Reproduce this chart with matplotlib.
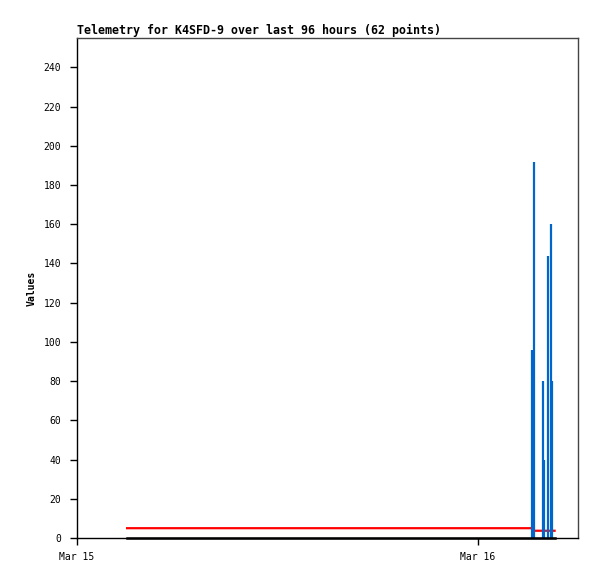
import matplotlib
matplotlib.use("Agg")
import matplotlib.pyplot as plt
from datetime import datetime

# Data
zero_times = [datetime(2024, 3, 15, 3, 0), datetime(2024, 3, 16, 4, 36)]
zero_vals = [0, 0]

red_times = [datetime(2024, 3, 15, 3, 0), datetime(2024, 3, 16, 3, 16),
             datetime(2024, 3, 16, 3, 21), datetime(2024, 3, 16, 4, 36)]
red_vals = [5, 5, 3.7, 3.7]

bar_times = [datetime(2024, 3, 16, 3, 16), datetime(2024, 3, 16, 3, 21),
             datetime(2024, 3, 16, 3, 53), datetime(2024, 3, 16, 3, 57),
             datetime(2024, 3, 16, 4, 11), datetime(2024, 3, 16, 4, 22),
             datetime(2024, 3, 16, 4, 26)]
bar_vals = [96, 192, 80, 40, 144, 160, 80]

yticks = list(range(0, 241, 20))
xtick_times = [datetime(2024, 3, 15), datetime(2024, 3, 16)]
xtick_labels = ["Mar 15", "Mar 16"]

mono = "DejaVu Sans Mono"

fig = plt.figure(figsize=(5.97, 5.79), dpi=100)
ax = fig.add_axes([77 / 597, 1 - 538 / 579, 501 / 597, 500 / 579])

ax.plot(red_times, red_vals, color="#ff0000", lw=1.6, zorder=2)
ax.vlines(bar_times, 0, bar_vals, color="#0066cc", lw=1.6, zorder=3)
ax.plot(zero_times, zero_vals, color="black", lw=1.8, zorder=4, clip_on=False)

ax.set_xlim(datetime(2024, 3, 15), datetime(2024, 3, 16, 6, 0))
ax.set_ylim(0, 255)
ax.set_yticks(yticks)
ax.set_xticks(xtick_times)
ax.set_xticklabels(xtick_labels)

for lab in ax.get_xticklabels() + ax.get_yticklabels():
    lab.set_fontfamily(mono)
    lab.set_fontsize(7)
ax.tick_params(axis="y", length=5, width=1, color="black", pad=6.5)
ax.tick_params(axis="x", length=5, width=1, color="black", pad=5)

ax.spines["top"].set_color("#444444")
ax.spines["right"].set_color("#444444")
for s in ax.spines.values():
    s.set_linewidth(1)

ax.set_ylabel("Values", fontfamily=mono, fontweight="bold", fontsize=7)
ax.yaxis.set_label_coords(-0.08, 0.5)
ax.set_title("Telemetry for K4SFD-9 over last 96 hours (62 points)",
             loc="left", fontfamily=mono, fontweight="bold", fontsize=8.4, pad=3)

fig.savefig("out.png", dpi=100)
